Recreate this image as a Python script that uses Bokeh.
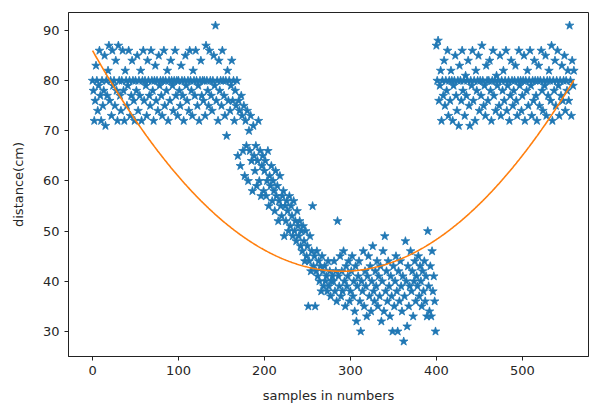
import numpy as np
from bokeh.plotting import figure
from bokeh.models import Range1d, FixedTicker
from bokeh.embed import file_html
from bokeh.resources import INLINE

# distance readings (cm), one per sample, in four stretches
first_plateau = [
    80, 78, 72, 76, 83, 80, 74, 79, 86, 77,
    72, 80, 75, 78, 85, 71, 80, 77, 82, 87,
    76, 80, 73, 86, 79, 80, 75, 84, 78, 72,
    87, 80, 77, 74, 80, 86, 78, 72, 82, 80,
    75, 79, 86, 80, 73, 77, 84, 80, 76, 72,
    80, 78, 85, 74, 80, 77, 82, 72, 80, 86,
    76, 80, 79, 73, 84, 80, 77, 75, 86, 80,
    78, 72, 80, 83, 76, 80, 74, 85, 79, 80,
    77, 73, 80, 86, 75, 80, 78, 82, 72, 80,
    76, 84, 80, 79, 74, 80, 86, 77, 80, 73,
    80, 78, 75, 83, 80, 77, 72, 80, 85, 79,
    76, 80, 74, 86, 80, 78, 73, 82, 80, 77,
    86, 80, 75, 79, 72, 80, 84, 77, 80, 76,
    80, 73, 87, 80, 78, 75, 86, 80, 77, 74,
    80, 85, 79, 91, 76, 80, 72, 84, 78, 80,
    75, 86, 80, 77, 73, 80, 69, 82, 76, 80,
    74, 79, 84, 76, 80, 72, 78, 75, 80, 65,
]

descent = [
    76, 74, 63, 77, 73, 66, 75, 61, 72, 67,
    74, 60, 70, 66, 73, 64, 58, 71, 65, 62,
    67, 59, 64, 72, 60, 66, 57, 63, 65, 58,
    62, 64, 57, 60, 66, 55, 61, 59, 63, 56,
    60, 58, 54, 62, 57, 59, 52, 56, 61, 55,
    53, 57, 58, 49, 55, 52, 56, 54, 50, 57,
    51, 55, 53, 49, 56, 50, 52, 48, 54, 51,
    49, 52, 47, 50, 46, 51, 48, 44, 50, 45,
    47, 35, 44, 49, 42, 46, 55, 43, 45, 35,
    42, 46, 41, 44, 40, 43, 38, 45, 42, 39,
    43, 40, 41, 38, 44, 39, 42, 37, 40, 41,
]

trough = [
    40, 44, 38, 42, 36, 52, 41, 39, 45, 37,
    42, 38, 46, 40, 35, 43, 39, 41, 44, 36,
    38, 42, 45, 37, 40, 34, 43, 32, 39, 41,
    44, 36, 30, 40, 38, 46, 35, 42, 39, 33,
    41, 45, 37, 43, 34, 40, 47, 38, 36, 42,
    39, 44, 35, 41, 37, 43, 32, 40, 46, 34,
    49, 38, 42, 36, 44, 39, 33, 41, 37, 30,
    43, 35, 40, 45, 38, 30, 42, 36, 44, 39,
    34, 41, 28, 37, 48, 40, 31, 43, 35, 39,
    46, 38, 42, 33, 40, 44, 36, 41, 39, 45,
    37, 43, 40, 35, 42, 38, 44, 36, 41, 33,
    50, 39, 34, 43, 33, 46, 38, 41, 36, 30,
]

second_plateau = [
    87, 80, 88, 76, 79, 82, 72, 80, 77, 84,
    75, 80, 78, 86, 73, 80, 76, 82, 80, 72,
    79, 80, 85, 77, 74, 80, 71, 83, 80, 76,
    86, 78, 80, 73, 81, 77, 80, 84, 75, 71,
    80, 79, 86, 76, 80, 72, 82, 78, 80, 85,
    74, 80, 77, 87, 80, 75, 79, 73, 83, 80,
    76, 80, 84, 78, 72, 80, 86, 77, 80, 74,
    81, 79, 80, 75, 85, 73, 80, 78, 82, 76,
    80, 86, 74, 79, 80, 72, 77, 84, 80, 75,
    78, 80, 83, 76, 73, 80, 86, 79, 80, 74,
    77, 80, 85, 72, 80, 78, 82, 75, 80, 86,
    79, 73, 80, 76, 84, 80, 77, 72, 80, 83,
    75, 80, 86, 78, 74, 80, 79, 85, 73, 80,
    77, 82, 80, 76, 87, 72, 80, 78, 84, 75,
    80, 86, 79, 73, 80, 77, 83, 76, 80, 85,
    74, 80, 78, 82, 76, 91, 80, 73, 84, 79,
    82,
]

# quadratic trend: vertex position, minimum value and curvature
trend_vertex = 290.0
trend_minimum = 42.0
trend_curvature = 5.23e-4

x_ticks = [0, 100, 200, 300, 400, 500]
y_ticks = [30, 40, 50, 60, 70, 80, 90]

distance = np.array(first_plateau + descent + trough + second_plateau, dtype=float)
samples = np.arange(len(distance))
trend = trend_minimum + trend_curvature * (samples - trend_vertex) ** 2

p = figure(
    width=590, height=410,
    output_backend="svg", toolbar_location=None,
    x_range=Range1d(-28, 577), y_range=Range1d(25.0, 93.6),
    min_border_left=68, min_border_right=2,
    min_border_top=12, min_border_bottom=54,
)
p.background_fill_color = "white"
p.border_fill_color = "white"
p.outline_line_color = "#222222"
p.outline_line_width = 1
p.grid.visible = False

p.scatter(samples, distance, marker="star", size=9,
          fill_color="#1f77b4", line_color="#1f77b4", line_width=0.8)
p.line(samples, trend, line_color="#ff7f0e", line_width=1.6)

p.xaxis.ticker = FixedTicker(ticks=x_ticks)
p.yaxis.ticker = FixedTicker(ticks=y_ticks)
p.xaxis.axis_label = "samples in numbers"
p.yaxis.axis_label = "distance(cm)"

for ax in (p.xaxis[0], p.yaxis[0]):
    ax.axis_line_color = "#222222"
    ax.major_tick_line_color = "#222222"
    ax.major_tick_out = 4
    ax.major_tick_in = 0
    ax.minor_tick_line_color = None
    ax.major_label_text_font = "DejaVu Sans"
    ax.major_label_text_font_size = "13px"
    ax.major_label_text_color = "#262626"
    ax.axis_label_text_font = "DejaVu Sans"
    ax.axis_label_text_font_size = "13px"
    ax.axis_label_text_font_style = "normal"
    ax.axis_label_text_color = "#262626"
p.xaxis.axis_label_standoff = 10
p.yaxis.axis_label_standoff = 14
p.yaxis.major_label_orientation = "horizontal"

open("out.html", "w").write(file_html(p, INLINE))
